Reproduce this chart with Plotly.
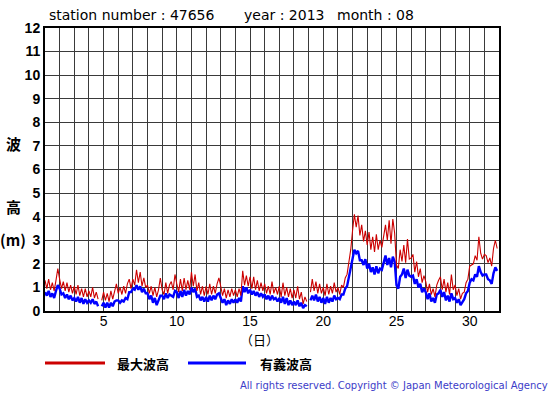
import numpy as np
import plotly.graph_objects as go

# ---- data (3-hourly readings, Aug 2013, station 47656) ----
max_wave = [
    1.3, 0.95, 1.35, 0.9, 1.2, 0.85, 1.3, 1.8,        # day 1
    1.35, 0.95, 1.25, 0.85, 1.2, 0.8, 1.1, 0.75,      # day 2
    1.05, 0.7, 1.1, 0.65, 0.95, 0.6, 0.95, 0.6,       # day 3
    0.85, 0.6, 1.0, 0.55, 0.8, 0.5, None, 0.45,       # day 4
    0.8, 0.45, 0.75, 0.4, 0.85, 0.5, 0.8, 1.15,       # day 5
    0.75, 1.0, 0.7, 1.05, 0.75, 1.15, 1.35, 0.95,     # day 6
    1.35, 1.1, 1.75, 1.2, 1.65, 1.05, 1.4, 1.0,       # day 7
    1.1, 0.75, 1.05, 0.65, 1.0, 0.6, 0.9, 1.4,        # day 8
    0.9, 0.7, 1.2, 0.75, 1.1, 1.25, 0.9, 1.55,        # day 9
    1.15, 0.8, 1.35, 0.85, 1.4, 0.9, 1.3, 0.9,        # day 10
    1.65, 1.05, 1.55, 0.85, 1.2, 0.7, 1.05, 0.65,     # day 11
    1.05, 0.7, 1.15, 0.7, 1.05, 0.75, 1.15, 1.4,      # day 12
    1.05, 0.65, 0.95, 0.55, 0.9, 0.6, 0.95, 0.65,     # day 13
    0.9, 0.6, 0.95, 0.65, 1.7, 1.1, 1.5, 1.05,        # day 14
    1.45, 0.95, 1.45, 0.9, 1.3, 0.85, 1.2, 0.85,      # day 15
    1.15, 0.75, 1.05, 0.7, 1.25, 0.75, 1.0, 0.7,      # day 16
    1.05, 0.6, 1.2, 0.65, 1.0, 0.6, 0.95, 0.55,       # day 17
    0.9, 0.55, 1.05, 0.5, 0.8, 0.3, 0.6, 0.4,         # day 18
    None, 0.8, 1.35, 0.85, 1.25, 0.75, 1.15, 0.75,    # day 19
    1.0, 0.65, 1.15, 0.7, 1.05, 0.75, 1.2, 0.8,       # day 20
    1.0, 0.7, 1.1, 1.0, 1.4, 1.55, 2.1, 2.6,          # day 21
    3.4, 4.1, 3.55, 4.05, 3.2, 3.65, 2.95, 3.4,       # day 22
    2.8, 3.35, 2.6, 3.15, 2.5, 3.25, 2.6, 3.0,        # day 23
    2.7, 3.2, 3.65, 3.0, 3.85, 2.85, 3.9, 3.3,        # day 24
    1.95, 1.8, 2.6, 2.1, 2.8, 2.05, 3.05, 2.2,        # day 25
    2.25, 2.4, 1.65, 2.1, 1.45, 1.8, 1.2, 1.5,        # day 26
    1.25, 0.8, 1.15, 0.7, 0.95, 0.6, 1.1, 1.3,        # day 27
    1.45, 0.9, 1.35, 0.8, 1.2, 0.7, 1.55, 0.9,        # day 28
    1.1, 0.65, 0.95, 0.5, 0.75, 0.8, 1.2, 1.35,       # day 29
    1.9, 1.95, 2.0, 2.35, 2.15, 3.15, 2.45, 2.2,      # day 30
    2.4, 2.35, 2.05, 2.25, 1.9, 2.65, 3.0, 2.65,      # day 31
]

sig_wave = [
    0.8, 0.65, 0.85, 0.6, 0.75, 0.55, 0.85, 1.1,      # day 1
    0.95, 0.7, 0.75, 0.55, 0.7, 0.5, 0.65, 0.45,      # day 2
    0.55, 0.4, 0.6, 0.35, 0.55, 0.3, 0.5, 0.35,       # day 3
    0.45, 0.35, 0.5, 0.3, 0.4, 0.2, None, 0.2,        # day 4
    0.35, 0.15, 0.35, 0.15, 0.35, 0.2, 0.4, 0.45,     # day 5
    0.45, 0.35, 0.45, 0.4, 0.55, 0.5, 0.8, 0.8,       # day 6
    0.95, 0.9, 1.1, 0.9, 1.05, 0.8, 0.95, 0.75,       # day 7
    0.75, 0.5, 0.65, 0.35, 0.55, 0.25, 0.45, 0.65,    # day 8
    0.65, 0.5, 0.75, 0.55, 0.7, 0.65, 0.6, 0.85,      # day 9
    0.8, 0.55, 0.85, 0.6, 0.9, 0.65, 0.85, 0.7,       # day 10
    1.0, 0.8, 0.95, 0.6, 0.65, 0.45, 0.6, 0.4,        # day 11
    0.6, 0.4, 0.65, 0.45, 0.65, 0.5, 0.7, 0.75,       # day 12
    0.55, 0.35, 0.5, 0.25, 0.45, 0.3, 0.5, 0.35,      # day 13
    0.5, 0.35, 0.55, 0.4, 1.05, 0.8, 1.0, 0.75,       # day 14
    0.9, 0.7, 0.85, 0.65, 0.8, 0.6, 0.75, 0.6,        # day 15
    0.7, 0.5, 0.65, 0.45, 0.65, 0.5, 0.55, 0.4,       # day 16
    0.55, 0.35, 0.6, 0.3, 0.55, 0.25, 0.45, 0.25,     # day 17
    0.4, 0.25, 0.45, 0.2, 0.35, 0.12, 0.25, 0.2,      # day 18
    None, 0.45, 0.65, 0.45, 0.7, 0.4, 0.6, 0.35,      # day 19
    0.55, 0.3, 0.6, 0.35, 0.55, 0.4, 0.65, 0.5,       # day 20
    0.55, 0.5, 0.7, 0.7, 0.95, 1.05, 1.45, 1.7,       # day 21
    2.25, 2.6, 2.45, 2.55, 2.15, 2.15, 1.95, 2.2,     # day 22
    1.8, 2.0, 1.65, 1.85, 1.55, 1.9, 1.6, 1.8,        # day 23
    1.75, 2.0, 2.35, 1.95, 2.25, 1.85, 2.3, 2.1,      # day 24
    1.1, 0.95, 1.45, 1.55, 1.8, 1.4, 1.75, 1.5,       # day 25
    1.45, 1.5, 1.15, 1.35, 1.0, 1.15, 0.8, 0.95,      # day 26
    0.8, 0.5, 0.75, 0.4, 0.55, 0.35, 0.7, 0.75,       # day 27
    0.9, 0.6, 0.8, 0.45, 0.65, 0.4, 0.75, 0.5,        # day 28
    0.55, 0.35, 0.5, 0.25, 0.4, 0.5, 0.75, 0.85,      # day 29
    1.2, 1.35, 1.3, 1.55, 1.45, 1.9, 1.65, 1.5,       # day 30
    1.55, 1.55, 1.35, 1.3, 1.15, 1.6, 1.85, 1.7,      # day 31
]

readings_per_day = 8
day_axis = 1 + np.arange(len(max_wave)) / readings_per_day  # day of month (time)

y_ticks = list(range(0, 13))
x_ticks = [5, 10, 15, 20, 25, 30]
series_names = ["最大波高", "有義波高"]
series_colors = ["#cc0000", "#0000ff"]

# ---- figure ----
W, H = 555, 395
ML, MR, MT, MB = 45, 56, 28, 84
PW, PH = W - ML - MR, H - MT - MB


def px(x):
    return (x - ML) / PW


def py(y):
    return (H - MB - y) / PH


fig = go.Figure()
fig.add_trace(go.Scatter(x=day_axis, y=sig_wave, mode="lines", name=series_names[1],
                         line=dict(color=series_colors[1], width=2.4), connectgaps=False,
                         showlegend=False))
fig.add_trace(go.Scatter(x=day_axis, y=max_wave, mode="lines", name=series_names[0],
                         line=dict(color=series_colors[0], width=1.1), connectgaps=False,
                         showlegend=False))

tick_font = dict(family="Liberation Sans, Arial, sans-serif", size=14, color="black")
cjk = "Noto Sans CJK JP, sans-serif"

fig.update_layout(
    width=W, height=H,
    margin=dict(l=ML, r=MR, t=MT, b=MB, pad=0),
    paper_bgcolor="white", plot_bgcolor="white",
    showlegend=False,
    xaxis=dict(range=[1, 32], tickmode="array", tickvals=x_ticks,
               ticktext=[str(v) for v in x_ticks],
               showgrid=True, gridcolor="#3a3a3a", gridwidth=1,
               minor=dict(tick0=1, dtick=1, showgrid=True, gridcolor="#3a3a3a", gridwidth=1),
               showline=True, linecolor="black", linewidth=2, mirror=True,
               ticks="", tickfont=tick_font, zeroline=False, ticklabelstandoff=-4),
    yaxis=dict(range=[0, 12], tickmode="array", tickvals=y_ticks,
               ticktext=[f"<b>{v}</b>" for v in y_ticks],
               showgrid=True, gridcolor="#3a3a3a", gridwidth=1,
               showline=True, linecolor="black", linewidth=2, mirror=True,
               ticks="", tickfont=tick_font, zeroline=False, ticklabelstandoff=0),
)

ann = []
title_font = dict(family="DejaVu Sans, sans-serif", size=14, color="black")
for txt, x0 in [("station number : 47656", 47), ("year : 2013", 242), ("month : 08", 335)]:
    ann.append(dict(text=txt, x=px(x0), y=py(15), xref="paper", yref="paper",
                    xanchor="left", yanchor="middle", showarrow=False, font=title_font))

for txt, yc, sz in [("<b>波</b>", 143, 15), ("<b>高</b>", 206, 15), ("<b>(m)</b>", 239, 15)]:
    ann.append(dict(text=txt, x=px(13), y=py(yc), xref="paper", yref="paper",
                    xanchor="center", yanchor="middle", showarrow=False,
                    font=dict(family=cjk, size=sz, color="black")))

ann.append(dict(text="（日）", x=px(259), y=py(339), xref="paper", yref="paper",
                xanchor="center", yanchor="middle", showarrow=False,
                font=dict(family=cjk, size=13, color="black")))

# legend
legend_items = [(series_names[0], series_colors[0], 45, 105, 115),
                (series_names[1], series_colors[1], 188, 246, 258)]
shapes = []
for name, col, x0, x1, xt in legend_items:
    shapes.append(dict(type="line", xref="paper", yref="paper", x0=px(x0), x1=px(x1),
                       y0=py(363), y1=py(363), line=dict(color=col, width=3)))
    ann.append(dict(text=f"<b>{name}</b>", x=px(xt), y=py(363), xref="paper", yref="paper",
                    xanchor="left", yanchor="middle", showarrow=False,
                    font=dict(family=cjk, size=13, color="black")))

ann.append(dict(text="All rights reserved. Copyright © Japan Meteorological Agency",
                x=px(550), y=py(385), xref="paper", yref="paper",
                xanchor="right", yanchor="middle", showarrow=False,
                font=dict(family="DejaVu Sans, sans-serif", size=10, color="#3c3cc8")))

fig.update_layout(annotations=ann, shapes=shapes)
fig.write_html("out.html",
               config={"displayModeBar": False},
               post_script="document.body.style.margin='0';document.body.style.padding='0';")
